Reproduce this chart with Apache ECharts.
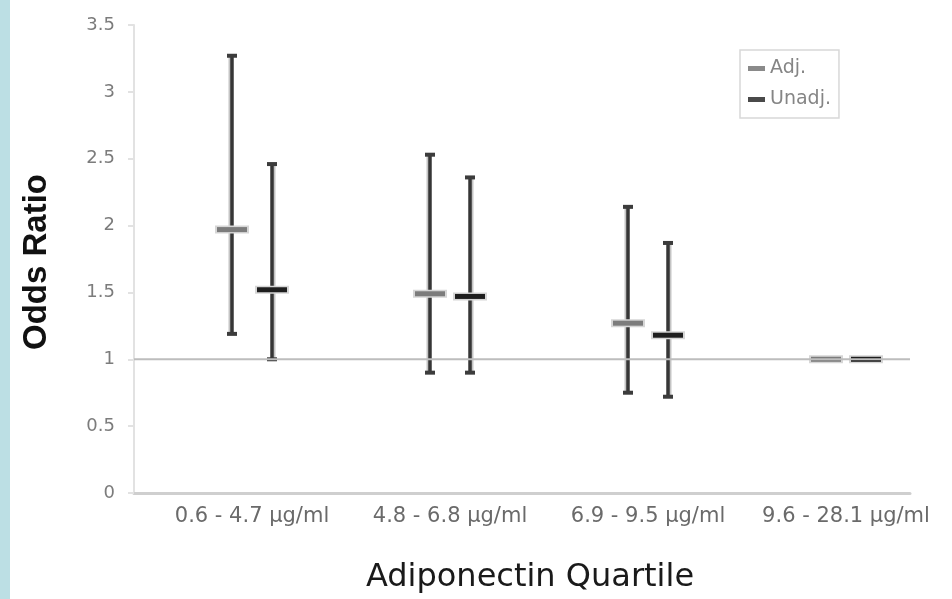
<!DOCTYPE html>
<html lang="en">
<head>
    <meta charset="UTF-8">
    <title>Odds Ratio by Adiponectin Quartile</title>
    <script src="https://cdn.jsdelivr.net/npm/echarts@6.0.0/dist/echarts.min.js"></script>
    <style>
        html, body { margin: 0; padding: 0; background: #fff; }
        #main { width: 952px; height: 599px; }
    </style>
</head>
<body>
<div id="main"></div>
<script>
// quartile labels
var categories = ['0.6 - 4.7 µg/ml', '4.8 - 6.8 µg/ml', '6.9 - 9.5 µg/ml', '9.6 - 28.1 µg/ml'];
// adjusted odds ratio + 95% CI
var adjOR   = [1.97, 1.49, 1.27, 1];
var adjLow  = [1.19, 0.90, 0.75, 1];
var adjHigh = [3.27, 2.53, 2.14, 1];
// unadjusted
var unadjOR   = [1.52, 1.47, 1.18, 1];
var unadjLow  = [1.00, 0.90, 0.72, 1];
var unadjHigh = [2.46, 2.36, 1.87, 1];
// reference line
var refValue = 1;

function makeData(or, low, high) {
    var out = [];
    for (var i = 0; i < or.length; i++) {
        out.push([i, or[i], low[i], high[i]]);
    }
    return out;
}

function errorBar(offset, dashColor, haloSide) {
    return function (params, api) {
        var cat = api.value(0);
        var x = api.coord([cat, 0])[0] + offset;
        var yMean = api.coord([cat, api.value(1)])[1];
        var yLow = api.coord([cat, api.value(2)])[1];
        var yHigh = api.coord([cat, api.value(3)])[1];
        var kids = [];
        if (api.value(3) > api.value(2)) {
            kids.push({type: 'line', shape: {x1: x + haloSide * 2, y1: yHigh, x2: x + haloSide * 2, y2: yLow},
                style: {stroke: '#c4c4c4', lineWidth: 3}});
            kids.push({type: 'line', shape: {x1: x, y1: yHigh, x2: x, y2: yLow},
                style: {stroke: '#363636', lineWidth: 3.5}});
            kids.push({type: 'line', shape: {x1: x - 5, y1: yHigh, x2: x + 5, y2: yHigh},
                style: {stroke: '#3c3c3c', lineWidth: 4}});
            kids.push({type: 'line', shape: {x1: x - 5, y1: yLow, x2: x + 5, y2: yLow},
                style: {stroke: '#3c3c3c', lineWidth: 4}});
        }
        kids.push({type: 'rect', shape: {x: x - 17, y: yMean - 4, width: 34, height: 8},
            style: {fill: '#d6d6d6'}});
        kids.push({type: 'rect', shape: {x: x - 15, y: yMean - 2.5, width: 30, height: 5},
            style: {fill: dashColor}});
        return {type: 'group', children: kids};
    };
}

var chartDom = document.getElementById('main');
var myChart = echarts.init(chartDom);
var option;

option = {
    backgroundColor: '#fff',
    animation: false,
    grid: [
        {left: 134, right: 42, top: 25, bottom: 106},
        {left: 153, right: 7, top: 25, bottom: 106}
    ],
    legend: {
        data: ['Adj.', 'Unadj.'],
        orient: 'vertical',
        left: 740,
        top: 50,
        padding: [9, 8, 9, 8],
        itemGap: 12,
        itemWidth: 17,
        itemHeight: 5,
        icon: 'rect',
        borderColor: '#d8d8d8',
        borderWidth: 1.5,
        selectedMode: false,
        textStyle: {fontFamily: 'DejaVu Sans', fontSize: 19, color: '#858585'}
    },
    xAxis: [
        {
            gridIndex: 0, type: 'value', min: 0, max: 1,
            axisLine: {show: true, lineStyle: {color: '#cfcfcf', width: 3}},
            axisTick: {show: false}, axisLabel: {show: false}, splitLine: {show: false}
        },
        {
            gridIndex: 1, type: 'category', data: categories, boundaryGap: true,
            axisLine: {show: false}, axisTick: {show: false}, splitLine: {show: false},
            axisLabel: {interval: 0, margin: 13, fontFamily: 'DejaVu Sans', fontSize: 21, color: '#6a6a6a'}
        }
    ],
    yAxis: [
        {
            gridIndex: 0, type: 'value', min: 0, max: 3.5, interval: 0.5,
            axisLine: {show: true, lineStyle: {color: '#e2e2e2', width: 2}},
            axisTick: {show: true, length: 6, lineStyle: {color: '#e2e2e2', width: 2}},
            splitLine: {show: false},
            axisLabel: {margin: 19, fontFamily: 'DejaVu Sans', fontSize: 18, color: '#7c7c7c'}
        },
        {
            gridIndex: 1, type: 'value', min: 0, max: 3.5, interval: 0.5, show: false
        }
    ],
    graphic: [
        {type: 'rect', left: 0, top: 0, shape: {width: 10, height: 599}, style: {fill: '#bcdfe4'}, silent: true},
        {type: 'text', x: 37, y: 262, rotation: Math.PI / 2,
            style: {text: 'Odds Ratio', font: 'bold 33px "Liberation Sans"', fill: '#111',
                textAlign: 'center', textVerticalAlign: 'middle'}},
        {type: 'text', x: 530, y: 578,
            style: {text: 'Adiponectin Quartile', font: '32px "DejaVu Sans"', fill: '#1a1a1a',
                textAlign: 'center', textVerticalAlign: 'middle'}}
    ],
    series: [
        {
            name: 'ref', type: 'line', xAxisIndex: 0, yAxisIndex: 0,
            data: [[0, refValue], [1, refValue]], symbol: 'none', silent: true,
            lineStyle: {color: '#bdbdbd', width: 2}
        },
        {
            name: 'Adj.', type: 'custom', xAxisIndex: 1, yAxisIndex: 1,
            itemStyle: {color: '#8a8a8a'},
            renderItem: errorBar(-20, '#7c7c7c', -1),
            data: makeData(adjOR, adjLow, adjHigh)
        },
        {
            name: 'Unadj.', type: 'custom', xAxisIndex: 1, yAxisIndex: 1,
            itemStyle: {color: '#4a4a4a'},
            renderItem: errorBar(20, '#1e1e1e', 1),
            data: makeData(unadjOR, unadjLow, unadjHigh)
        }
    ]
};

myChart.setOption(option);
</script>
</body>
</html>
